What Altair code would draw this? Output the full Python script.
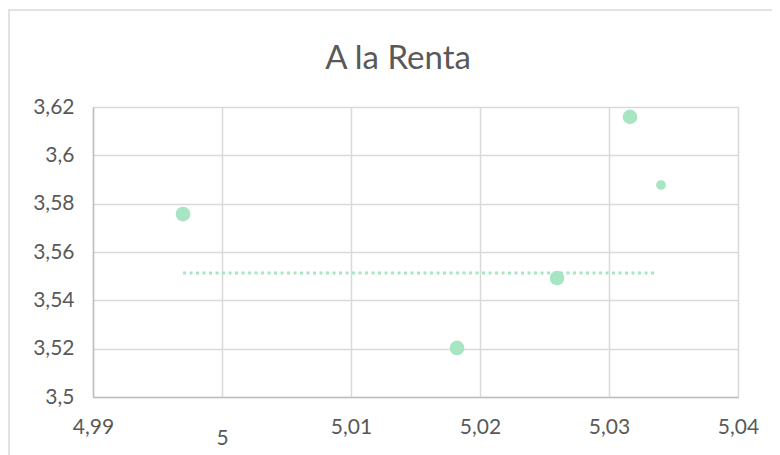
import altair as alt
import pandas as pd

# Data
x_vals = [4.99698, 5.01822, 5.02597, 5.03163, 5.03403]
y_vals = [3.5757, 3.5203, 3.5492, 3.6159, 3.5877]
trend_x = [4.99698, 5.0337]
trend_y = [3.5513, 3.5513]
x_ticks = [4.99, 5.0, 5.01, 5.02, 5.03, 5.04]
y_ticks = [3.5, 3.52, 3.54, 3.56, 3.58, 3.6, 3.62]
title_text = "A la Renta"

pts = pd.DataFrame({"x": x_vals, "y": y_vals})
trend = pd.DataFrame({"x": trend_x, "y": trend_y})

GREEN = "#a7e5c3"
LABEL = "#595959"
FONT = "Lato"

xscale = alt.Scale(domain=[4.99, 5.04], nice=False, zero=False)
yscale = alt.Scale(domain=[3.5, 3.62], nice=False, zero=False)

xaxis = alt.Axis(
    values=x_ticks, title=None, grid=True, ticks=False,
    labelExpr="replace(toString(datum.value), '.', ',')",
    labelPadding=30, labelFlush=False, labelOverlap=False,
    labelBaseline={"condition": {"test": "datum.value == 5", "value": "top"}, "value": "middle"},
    labelFontSize=21, labelColor=LABEL, labelFont=FONT,
    domainColor="#bfbfbf", domainWidth=1.5,
    gridColor="#d9d9d9", gridWidth=1.5,
)
yaxis = alt.Axis(
    values=y_ticks, title=None, grid=True, ticks=False,
    labelExpr="replace(toString(datum.value), '.', ',')",
    labelPadding=19, labelFlush=False, labelOverlap=False,
    labelFontSize=21, labelColor=LABEL, labelFont=FONT,
    domainColor="#bfbfbf", domainWidth=1.5,
    gridColor="#d9d9d9", gridWidth=1.5,
)

base_pts = alt.Chart(pts)

main_pts = base_pts.transform_filter("datum.x < 5.033").mark_circle(
    color=GREEN, opacity=1, size=215
).encode(
    x=alt.X("x:Q", scale=xscale, axis=xaxis),
    y=alt.Y("y:Q", scale=yscale, axis=yaxis),
)

small_pts = base_pts.transform_filter("datum.x >= 5.033").mark_circle(
    color=GREEN, opacity=1, size=95
).encode(
    x=alt.X("x:Q", scale=xscale),
    y=alt.Y("y:Q", scale=yscale),
)

trend_line = alt.Chart(trend).mark_line(
    color=GREEN, strokeWidth=3, strokeDash=[3, 3.5], strokeCap="butt"
).encode(
    x=alt.X("x:Q", scale=xscale),
    y=alt.Y("y:Q", scale=yscale),
)

border = alt.Chart(alt.Data(values=[{}])).mark_rect(
    fill=None, stroke="#d9d9d9", strokeWidth=1.5
).encode(
    x=alt.value(-84), x2=alt.value(720),
    y=alt.value(-97), y2=alt.value(420),
)

title = alt.Chart(alt.Data(values=[{"t": title_text}])).mark_text(
    font=FONT, fontSize=33, color=LABEL, align="center", baseline="alphabetic"
).encode(
    text="t:N", x=alt.value(305), y=alt.value(-38),
)

chart = alt.layer(border, trend_line, main_pts, small_pts, title).properties(
    width=645, height=290,
    autosize=alt.AutoSizeParams(type="none"),
    padding={"left": 85, "top": 99, "right": 34, "bottom": 58},
).configure_view(stroke=None).configure(background="white")

chart.save("out.html", embed_options={"renderer": "svg", "actions": False})
